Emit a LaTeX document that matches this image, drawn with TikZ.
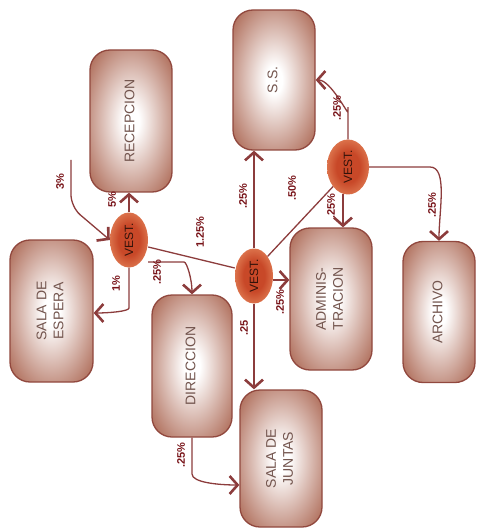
\documentclass[tikz,border=0pt]{standalone}
\usepackage{fontspec}
\setmainfont{Liberation Sans}
\usetikzlibrary{arrows.meta,shapes.geometric}
\definecolor{boxbrown}{RGB}{172,104,84}
\definecolor{boxedge}{RGB}{145,72,62}
\definecolor{linecol}{RGB}{140,60,60}
\definecolor{labcol}{RGB}{120,20,25}
\definecolor{txtcol}{RGB}{115,85,78}
\definecolor{vestin}{RGB}{200,72,40}
\definecolor{vestout}{RGB}{236,150,105}
\pgfdeclareradialshading{boxshade}{\pgfpoint{0bp}{0bp}}{color(0bp)=(white); color(5bp)=(white); color(34bp)=(boxbrown); color(100bp)=(boxbrown)}
\pgfdeclareradialshading{vestshade}{\pgfpoint{0bp}{0bp}}{color(0bp)=(vestin); color(14bp)=(vestin); color(35bp)=(vestout); color(100bp)=(vestout)}
\tikzset{
  room/.style={draw=boxedge, line width=1.3pt, rounded corners=20pt, shading=boxshade,
     inner sep=0pt, text=txtcol, font=\fontsize{14}{17}\selectfont, align=center},
  vest/.style={ellipse, draw=none, shading=vestshade, minimum width=38pt, minimum height=55pt,
     inner sep=0pt, text=black!75!vestin, font=\fontsize{12}{13}\selectfont},
  conn/.style={draw=linecol, line width=1.3pt, rounded corners=12pt},
  arr/.style={conn, -{Straight Barb[length=8pt,width=18pt,line width=2.6pt]}},
  lab/.style={text=labcol, font=\bfseries\fontsize{11}{12}\selectfont, inner sep=1pt, rotate=90}
}
\newcommand{\rtxt}[1]{\rotatebox{90}{\begin{tabular}{@{}c@{}}#1\end{tabular}}}
\begin{document}
\begin{tikzpicture}[x=1pt,y=-1pt]
\useasboundingbox (0,0) rectangle (477,529);
% rooms
\node[room, minimum width=82pt, minimum height=142pt] (rec) at (131,121) {\rtxt{RECEPCION}};
\node[room, minimum width=82pt, minimum height=140pt] (ss) at (274,80) {\rtxt{S.S.}};
\node[room, minimum width=83pt, minimum height=142pt] (esp) at (51.5,311) {\rtxt{SALA DE\\ESPERA}};
\node[room, minimum width=80pt, minimum height=142pt] (dir) at (192,366) {\rtxt{DIRECCION}};
\node[room, minimum width=82pt, minimum height=142pt] (adm) at (331,299) {\rtxt{ADMINIS-\\TRACION}};
\node[room, minimum width=72pt, minimum height=141pt] (arc) at (439,312) {\rtxt{ARCHIVO}};
\node[room, minimum width=82pt, minimum height=137pt] (jun) at (281,458.5) {\rtxt{SALA DE\\JUNTAS}};
% vest nodes
\node[vest] (v1) at (129,240) {\rotatebox{90}{VEST.}};
\node[vest] (v2) at (254,276) {\rotatebox{90}{VEST.}};
\node[vest, minimum width=42pt] (v3) at (348,167) {\rotatebox{90}{VEST.}};
% entry
\coordinate (in) at (71,160);
\draw[arr] (in) -- (71,207) -- (v1.west |- 0,240);
% connectors
\draw[arr] (v1.north) -- (rec.south -| v1.north);
\draw[arr] (v1.south) -- (129,296) to[out=-90,in=0] (esp.east |- 0,313);
\draw[arr] (v1.east |- 0,262) -- (172,262) to[out=0,in=90] (dir.north);
\draw[conn] (v1.east |- 0,247) -- (v2.west |- 0,268);
\draw[arr] (v2.north) -- (ss.south -| v2.north);
\draw[conn] (v2.north east) -- (v3.south west);
\draw[arr] (v2.east |- 0,280) -- (adm.west |- 0,280);
\draw[arr] (v2.south) -- (jun.north -| v2.south);
\draw[arr] (v3.north) -- (348,100) to[out=-90,in=0] (ss.east |- 0,80);
\draw[arr] (343,194) -- (adm.north -| 343,0);
\draw[arr] (v3.east) -- (418,167) to[out=0,in=90] (arc.north);
\draw[arr] (dir.south) -- (192,462) to[out=-90,in=180] (jun.west |- 0,485);
% labels
\node[lab] (l1) at (60,182) {3\%};
\node[lab] (l2) at (112,200) {5\%};
\node[lab] (l3) at (116,284) {1\%};
\node[lab] (l4) at (157,272) {.25\%};
\node[lab] (l5) at (200,232) {1.25\%};
\node[lab] (l6) at (243,196) {.25\%};
\node[lab] (l7) at (292,188) {.50\%};
\node[lab] (l8) at (280,302) {.25\%};
\node[lab] (l9) at (244,328) {.25};
\node[lab] (l10) at (337,108) {.25\%};
\node[lab] (l11) at (331,206) {.25\%};
\node[lab] (l12) at (432,205) {.25\%};
\node[lab] (l13) at (181,455) {.25\%};
\end{tikzpicture}
\end{document}
